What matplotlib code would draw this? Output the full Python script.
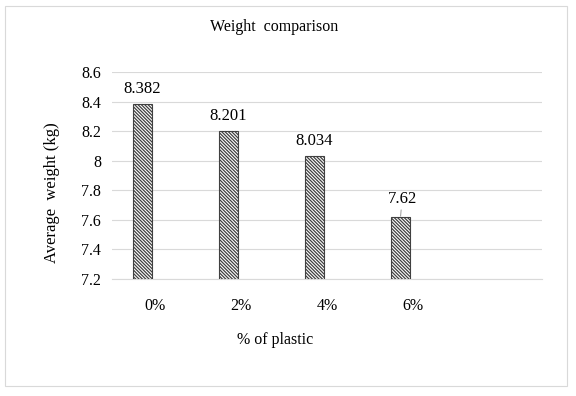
import matplotlib.pyplot as plt
from matplotlib.patches import Rectangle

plt.rcParams['font.family'] = ['Liberation Serif', 'DejaVu Serif']
plt.rcParams['hatch.linewidth'] = 0.9
plt.rcParams['hatch.color'] = '#505050'

categories = ['0%', '2%', '4%', '6%']
weights = [8.382, 8.201, 8.034, 7.62]
labels = ['8.382', '8.201', '8.034', '7.62']
yticks = [7.2, 7.4, 7.6, 7.8, 8, 8.2, 8.4, 8.6]
ytick_labels = ['7.2', '7.4', '7.6', '7.8', '8', '8.2', '8.4', '8.6']

fig = plt.figure(figsize=(5.76, 3.96), dpi=100)
ax = fig.add_axes([112 / 576, 1 - 279 / 396, 430 / 576, 207 / 396])

x = list(range(len(categories)))
offset = -0.145
xb = [i + offset for i in x]
ax.bar(xb, [w - 7.2 for w in weights], bottom=7.2, width=0.22,
       color='white', edgecolor='#404040', linewidth=0.8,
       hatch='\\' * 10, zorder=3)

for i, (w, lab) in enumerate(zip(weights, labels)):
    if i == 3:
        ax.annotate(lab, xy=(xb[i], w + 0.005), xytext=(xb[i] + 0.02, w + 0.12),
                    ha='center', va='center', fontsize=12,
                    arrowprops=dict(arrowstyle='-', color='#a6a6a6', lw=0.8,
                                    shrinkA=8, shrinkB=0))
    else:
        ax.text(xb[i], w + 0.1, lab, ha='center', va='center', fontsize=12)

ax.set_xlim(-0.5, 4.5)
ax.set_ylim(7.2, 8.6)
ax.set_yticks(yticks)
ax.set_yticklabels(ytick_labels, fontsize=11.5)
ax.set_xticks(x)
ax.set_xticklabels(categories, fontsize=11.5)
ax.tick_params(length=0)
ax.tick_params(axis='y', pad=8)
ax.tick_params(axis='x', pad=14)
ax.grid(axis='y', color='#d9d9d9', linewidth=0.8, zorder=0)
for s in ['top', 'right', 'left']:
    ax.spines[s].set_visible(False)
ax.spines['bottom'].set_color('#d9d9d9')

fig.text(275 / 576, 1 - 340 / 396, '% of plastic', ha='center', va='center', fontsize=11.5)
fig.text(52 / 576, 1 - 193 / 396, 'Average  weight (kg)', ha='center', va='center',
         rotation=90, fontsize=12)
fig.text(274 / 576, 1 - 27 / 396, 'Weight  comparison', ha='center', va='center', fontsize=11.5)

fig.patches.append(Rectangle((5 / 576, 10 / 396), 562 / 576, 380 / 396,
                             transform=fig.transFigure, fill=False,
                             edgecolor='#d9d9d9', linewidth=0.8))

fig.savefig('out.png', dpi=100)
